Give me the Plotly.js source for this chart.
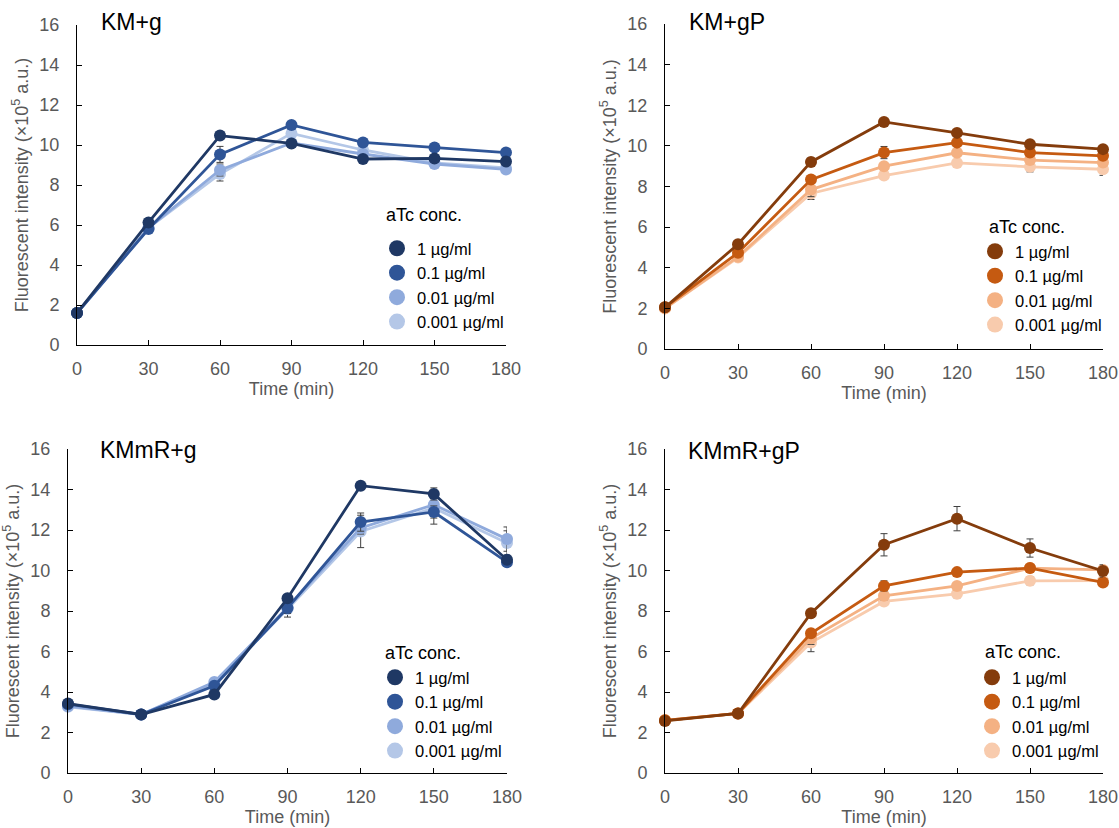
<!DOCTYPE html>
<html><head><meta charset="utf-8">
<script src="https://cdn.plot.ly/plotly-3.0.1.min.js"></script>
<style>html,body{margin:0;padding:0;background:#fff}</style>
</head><body><div id="chart" style="width:1119px;height:828px"></div>
<script>
const time = [0, 30, 60, 90, 120, 150, 180];
const concLabels = ['1 µg/ml', '0.1 µg/ml', '0.01 µg/ml', '0.001 µg/ml'];
const legendTitle = 'aTc conc.';
const panelTitles = ['KM+g', 'KM+gP', 'KMmR+g', 'KMmR+gP'];
const xTickLabels = ['0', '30', '60', '90', '120', '150', '180'];
const yTickValues = [0, 2, 4, 6, 8, 10, 12, 14, 16];

// KM+g
const kmg_1    = [1.6, 6.13, 10.47, 10.08, 9.30, 9.33, 9.17];
const kmg_01   = [1.6, 5.80, 9.53, 11.00, 10.13, 9.88, 9.62];
const kmg_001  = [1.6, 5.85, 8.75, 10.10, 9.55, 9.05, 8.78];
const kmg_0001 = [1.6, 5.85, 8.55, 10.58, 9.75, 9.10, 8.85];
const kmg_1_err    = [0.1, 0.1, 0.1, 0.15, 0.15, 0.1, 0.1];
const kmg_01_err   = [0.1, 0.1, 0.4, 0.15, 0.15, 0.1, 0.1];
const kmg_001_err  = [0.1, 0.1, 0.3, 0.1, 0.1, 0.1, 0.1];
const kmg_0001_err = [0.1, 0.1, 0.35, 0.1, 0.1, 0.1, 0.1];

// KM+gP
const kmgp_1    = [2.05, 5.16, 9.21, 11.18, 10.64, 10.08, 9.84];
const kmgp_01   = [2.05, 4.74, 8.34, 9.67, 10.16, 9.67, 9.51];
const kmgp_001  = [2.00, 4.54, 7.85, 9.00, 9.66, 9.30, 9.18];
const kmgp_0001 = [2.00, 4.50, 7.66, 8.54, 9.16, 8.97, 8.85];
const kmgp_1_err    = [0.1, 0.1, 0.2, 0.15, 0.15, 0.1, 0.1];
const kmgp_01_err   = [0.1, 0.1, 0.15, 0.3, 0.15, 0.1, 0.1];
const kmgp_001_err  = [0.1, 0.1, 0.35, 0.1, 0.1, 0.1, 0.1];
const kmgp_0001_err = [0.1, 0.1, 0.3, 0.1, 0.15, 0.25, 0.3];

// KMmR+g
const kmmrg_1    = [3.43, 2.89, 3.88, 8.63, 14.19, 13.78, 10.53];
const kmmrg_01   = [3.40, 2.89, 4.31, 8.15, 12.39, 12.89, 10.41];
const kmmrg_001  = [3.30, 2.89, 4.49, 8.18, 12.10, 13.25, 11.55];
const kmmrg_0001 = [3.27, 2.89, 4.40, 8.10, 11.93, 13.09, 11.36];
const kmmrg_1_err    = [0.1, 0.05, 0.1, 0.1, 0.1, 0.3, 0.15];
const kmmrg_01_err   = [0.1, 0.05, 0.1, 0.2, 0.45, 0.3, 0.1];
const kmmrg_001_err  = [0.1, 0.05, 0.1, 0.3, 0.3, 0.3, 0.6];
const kmmrg_0001_err = [0.1, 0.05, 0.1, 0.4, 0.8, 0.8, 0.6];

// KMmR+gP
const kmmrgp_1    = [2.57, 2.94, 7.89, 11.27, 12.56, 11.11, 9.98];
const kmmrgp_01   = [2.60, 2.94, 6.90, 9.24, 9.92, 10.12, 9.41];
const kmmrgp_001  = [2.60, 2.94, 6.65, 8.75, 9.24, 10.12, 10.03];
const kmmrgp_0001 = [2.60, 2.94, 6.44, 8.47, 8.85, 9.49, 9.50];
const kmmrgp_1_err    = [0.05, 0.05, 0.1, 0.55, 0.6, 0.45, 0.3];
const kmmrgp_01_err   = [0.05, 0.05, 0.1, 0.25, 0.1, 0.1, 0.1];
const kmmrgp_001_err  = [0.05, 0.05, 0.3, 0.2, 0.1, 0.1, 0.1];
const kmmrgp_0001_err = [0.05, 0.05, 0.45, 0.2, 0.2, 0.2, 0.1];

const blues   = ['#1f3864', '#2f5597', '#8faadc', '#b4c7e7'];
const oranges = ['#843c0c', '#c55a11', '#f4b183', '#f8cbad'];

const FONT = 'Liberation Sans, Arial, Helvetica, sans-serif';
const GRAY = '#595959';

const panels = [
  {vals: [kmg_1, kmg_01, kmg_001, kmg_0001], errs: [kmg_1_err, kmg_01_err, kmg_001_err, kmg_0001_err], colors: blues},
  {vals: [kmgp_1, kmgp_01, kmgp_001, kmgp_0001], errs: [kmgp_1_err, kmgp_01_err, kmgp_001_err, kmgp_0001_err], colors: oranges},
  {vals: [kmmrg_1, kmmrg_01, kmmrg_001, kmmrg_0001], errs: [kmmrg_1_err, kmmrg_01_err, kmmrg_001_err, kmmrg_0001_err], colors: blues},
  {vals: [kmmrgp_1, kmmrgp_01, kmmrgp_001, kmmrgp_0001], errs: [kmmrgp_1_err, kmmrgp_01_err, kmmrgp_001_err, kmmrgp_0001_err], colors: oranges}
];

const W = 1119, H = 828;
// pixel boxes [left, right, top, bottom]
const boxes = [
  [77, 506, 25, 345],
  [665, 1103, 24, 349],
  [68, 507, 449, 773],
  [665, 1103, 449, 773]
];
// legend (items) top-left pixel positions
const legPos = [[377, 231], [975, 234], [375, 660], [972, 660]];
// legend title pixel positions (left, center-y)
const legTitlePos = [[386, 215], [989, 227], [385, 653], [985, 652]];
// panel title pixel positions (left, center-y)
const titlePos = [[101, 22], [689, 22], [100, 450], [688, 451]];

const traces = [];
const layout = {
  width: W, height: H,
  margin: {l: 0, r: 0, t: 0, b: 0},
  paper_bgcolor: '#fff', plot_bgcolor: '#fff',
  font: {family: FONT, color: GRAY, size: 18},
  showlegend: true,
  annotations: []
};

panels.forEach((p, i) => {
  const n = i + 1;
  const xa = 'x' + (n === 1 ? '' : n), ya = 'y' + (n === 1 ? '' : n);
  const legName = 'legend' + (n === 1 ? '' : n);
  // legend entries (markers only), order 1 -> 0.001
  concLabels.forEach((lab, k) => {
    traces.push({
      x: [null], y: [null], xaxis: xa, yaxis: ya, type: 'scatter', mode: 'markers',
      name: lab, legend: legName, showlegend: true, hoverinfo: 'skip',
      marker: {color: p.colors[k], size: 16, symbol: 'circle'}
    });
  });
  // data traces, drawn lightest first so the darkest is on top
  for (let k = 3; k >= 0; k--) {
    traces.push({
      x: time, y: p.vals[k], xaxis: xa, yaxis: ya, type: 'scatter', mode: 'lines+markers',
      name: concLabels[k], legend: legName, showlegend: false, cliponaxis: false,
      line: {color: p.colors[k], width: 2.8},
      marker: {color: p.colors[k], size: 12},
      error_y: {type: 'data', array: p.errs[k], visible: true, color: '#404040', thickness: 1, width: 3.5}
    });
  }
  const b = boxes[i];
  const axCommon = {
    showline: true, linecolor: '#000', linewidth: 1, mirror: false,
    showgrid: false, zeroline: false, ticks: 'inside', ticklen: 5, tickcolor: '#000', tickwidth: 1,
    tickfont: {family: FONT, size: 18, color: GRAY}
  };
  layout['xaxis' + (n === 1 ? '' : n)] = Object.assign({}, axCommon, {
    domain: [b[0] / W, b[1] / W], anchor: ya, range: [0, 180],
    tickmode: 'array', tickvals: time, ticktext: xTickLabels, ticklabelstandoff: 7,
    title: {text: 'Time (min)', font: {family: FONT, size: 18, color: GRAY}, standoff: 4}
  });
  layout['yaxis' + (n === 1 ? '' : n)] = Object.assign({}, axCommon, {
    domain: [1 - b[3] / H, 1 - b[2] / H], anchor: xa, range: [0, 16],
    tickmode: 'array', tickvals: yTickValues, ticklabelstandoff: 13,
    title: {text: 'Fluorescent intensity (×10<sup>5</sup> a.u.)', font: {family: FONT, size: 18, color: GRAY}, standoff: 6}
  });
  layout[legName] = {
    x: legPos[i][0] / W, y: 1 - legPos[i][1] / H, xanchor: 'left', yanchor: 'top',
    bgcolor: 'rgba(0,0,0,0)', borderwidth: 0,
    font: {family: FONT, size: 16.5, color: '#000'},
    itemwidth: 30
  };
  layout.annotations.push({
    xref: 'paper', yref: 'paper', x: legTitlePos[i][0] / W, y: 1 - legTitlePos[i][1] / H,
    xanchor: 'left', yanchor: 'middle', showarrow: false, xshift: -2,
    text: legendTitle, font: {family: FONT, size: 18, color: '#000'}
  });
  layout.annotations.push({
    xref: 'paper', yref: 'paper', x: titlePos[i][0] / W, y: 1 - titlePos[i][1] / H,
    xanchor: 'left', yanchor: 'middle', showarrow: false, xshift: -2,
    text: panelTitles[i], font: {family: FONT, size: 23, color: '#000'}
  });
});

Plotly.newPlot('chart', traces, layout, {displayModeBar: false, staticPlot: true});
</script></body></html>
